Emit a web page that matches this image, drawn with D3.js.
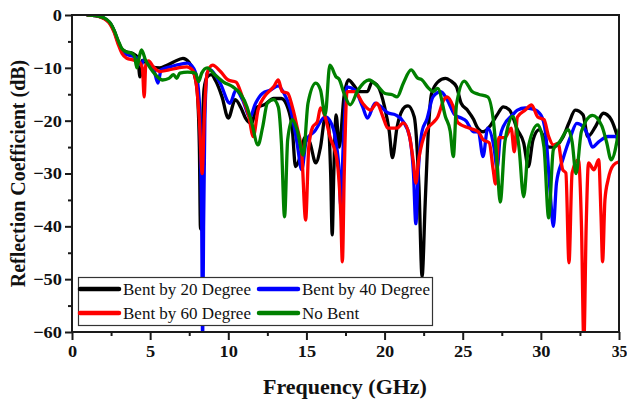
<!DOCTYPE html>
<html>
<head>
<meta charset="utf-8">
<script src="https://cdn.jsdelivr.net/npm/d3@7"></script>
<style>
  html, body { margin: 0; padding: 0; background: #fff; }
  svg { display: block; }
</style>
</head>
<body>
<svg id="chart" width="627" height="404"></svg>
<script>
// Reflection coefficient (dB) versus frequency (GHz), one [GHz, dB] pair per sample.
const bent20 = [
  [1,0],[1.5,-0.1],[1.8,-0.3],[2.2,-0.9],[2.45,-1.6],[2.7,-3],[2.95,-5],[3.2,-6.5],[3.5,-7],[3.9,-7.3],
  [4.2,-8],[4.35,-11.7],[4.5,-8.6],[4.8,-9.2],[5.1,-9.8],[5.6,-10],[6.0,-9.6],[6.5,-8.9],[7.1,-8.2],[7.5,-9],
  [7.8,-11],[8.0,-14],[8.15,-25],[8.22,-40.5],[8.32,-25],[8.45,-14],[8.65,-11.7],[8.9,-11.3],[9.2,-12.5],[9.6,-15.5],
  [10.0,-19.5],[10.45,-16],[10.8,-17.5],[11.1,-19.5],[11.5,-20.5],[11.8,-17.5],[12.3,-17],[12.9,-15.8],[13.4,-15.8],[13.8,-17.5],
  [14.1,-21.7],[14.3,-28.7],[14.6,-26.8],[14.9,-23.2],[15.2,-24],[15.6,-28],[15.9,-25],[16.2,-19.5],[16.4,-20.5],[16.55,-30],
  [16.65,-41.6],[16.75,-30],[16.9,-18.9],[17.1,-25],[17.4,-15.5],[17.7,-12.3],[18.0,-13.2],[18.4,-14.5],[18.9,-14.5],[19.2,-12.7],
  [19.6,-13.6],[20.0,-17.4],[20.3,-22],[20.5,-27],[20.8,-21.2],[21.3,-17.4],[21.5,-17.2],[21.9,-19.3],[22.2,-32.5],[22.4,-49.5],
  [22.6,-35.5],[22.8,-22],[23.0,-15],[23.4,-12.7],[23.9,-12],[24.2,-12.4],[24.6,-13.6],[24.9,-16.7],[25.3,-18],[25.7,-19.8],
  [25.9,-21.1],[26.3,-22.1],[26.8,-20.8],[27.2,-18.9],[27.6,-17.4],[28.0,-18],[28.5,-21.7],[28.9,-24.2],[29.2,-28.7],[29.5,-23.6],
  [29.9,-21.7],[30.5,-25],[30.8,-25],[31.4,-23.2],[31.8,-20.4],[32.2,-18],[32.7,-18.9],[33.0,-23],[33.5,-21.1],[34.0,-18.6],
  [34.5,-19.8],[34.9,-23],[35,-24]
];

const bent40 = [
  [1,0],[1.5,-0.1],[1.8,-0.3],[2.2,-0.9],[2.45,-1.6],[2.7,-3.1],[2.95,-5.2],[3.2,-6.8],[3.5,-7.5],[3.9,-7.8],
  [4.2,-8.3],[4.4,-9.5],[4.6,-8.5],[4.9,-9.2],[5.2,-10],[5.5,-12.9],[5.7,-10.4],[6.3,-9.8],[6.8,-9.4],[7.4,-9.1],
  [7.8,-10.2],[8.05,-13],[8.2,-20],[8.3,-40],[8.36,-62],[8.42,-40],[8.5,-20],[8.65,-11],[8.85,-10.4],[9.2,-11.5],
  [9.5,-13],[10.1,-16.7],[10.5,-14.2],[10.9,-16],[11.4,-19.3],[11.7,-17],[12.2,-14.8],[12.7,-14.2],[13.2,-13.4],[13.5,-14.5],
  [14.0,-18],[14.4,-24.2],[14.7,-29.3],[15.0,-23.6],[15.5,-22.1],[16.2,-19.3],[16.5,-20],[16.9,-24.2],[17.1,-30],[17.2,-36.3],
  [17.35,-25],[17.6,-13.6],[18.1,-14.2],[18.6,-17.4],[18.9,-19.5],[19.4,-16.7],[19.7,-17.2],[20.2,-18.5],[20.7,-18.9],[21.2,-20.2],
  [21.6,-23],[21.85,-30],[22.0,-39.5],[22.15,-30],[22.4,-22],[22.7,-19.8],[23.1,-15.5],[23.6,-14.5],[24.0,-16],[24.5,-18.9],
  [24.9,-19.5],[25.2,-20],[25.7,-22.1],[26.0,-22.1],[26.3,-26.8],[26.6,-21.4],[27.0,-25],[27.2,-29],[27.4,-23],[27.6,-21.1],
  [28.2,-18.9],[28.5,-18],[29.0,-17.6],[29.5,-17.8],[30.0,-18.9],[30.3,-22.3],[30.6,-33.7],[30.8,-40],[31.0,-31.8],[31.4,-27.4],
  [31.9,-23],[32.3,-20.5],[32.7,-21.1],[33.0,-22.7],[33.3,-25],[33.7,-24],[34.3,-23],[34.8,-23],[35,-24.5]
];

const bent60 = [
  [1,0],[1.5,-0.1],[1.8,-0.35],[2.2,-1],[2.45,-1.8],[2.7,-3.3],[2.95,-5.5],[3.2,-7.3],[3.5,-8.2],[3.9,-8.5],
  [4.3,-8.9],[4.5,-10],[4.62,-15.5],[4.72,-9.5],[4.9,-8.7],[5.2,-9.8],[5.6,-10.7],[6.2,-10.4],[6.8,-10],[7.35,-9.8],
  [7.7,-10.4],[7.95,-13],[8.15,-20],[8.33,-30],[8.48,-18],[8.65,-11],[9.0,-9.5],[9.5,-10.7],[10.0,-12.3],[10.5,-12.7],
  [10.9,-15.5],[11.3,-19],[11.6,-23],[11.9,-18],[12.3,-15.5],[12.9,-13.6],[13.2,-12.3],[13.45,-14.5],[13.8,-14.8],[14.1,-17.4],
  [14.4,-21.2],[14.7,-26.1],[14.95,-38.8],[15.15,-25],[15.4,-21.2],[15.7,-20.2],[15.9,-17.6],[16.2,-19.3],[16.5,-23],[16.95,-27.4],
  [17.2,-38],[17.3,-46.7],[17.42,-30],[17.6,-14.5],[18.1,-14.5],[18.6,-16.7],[19.1,-18],[19.5,-16.7],[19.9,-19.3],[20.2,-21.4],
  [20.8,-21.4],[21.2,-20.4],[21.6,-23],[21.85,-28],[22.0,-31.8],[22.2,-27],[22.4,-24.2],[22.7,-21.7],[23.1,-20.4],[23.4,-19.3],
  [23.8,-16],[24.0,-15.5],[24.4,-17.4],[24.7,-20.4],[25.4,-21.4],[26.0,-22.1],[26.3,-23.6],[26.7,-24.2],[26.95,-29.3],[27.1,-32],
  [27.3,-23.2],[27.7,-23.2],[28.1,-21.4],[28.3,-25.9],[28.5,-19.3],[29.0,-18],[29.4,-17],[29.8,-19.3],[30.2,-19.8],[30.5,-23],
  [30.8,-24.6],[31.1,-24.3],[31.4,-29.3],[31.6,-29.9],[31.8,-46.9],[32.0,-29.9],[32.4,-27.4],[32.6,-40],[32.75,-62],[32.9,-40],
  [33.05,-28],[33.4,-29.3],[33.7,-27.4],[33.85,-38],[33.95,-46.7],[34.1,-35],[34.3,-31.2],[34.65,-28.4],[35,-27.8]
];

const noBent = [
  [1,0],[1.5,-0.1],[1.8,-0.3],[2.2,-0.8],[2.45,-1.5],[2.7,-2.9],[2.95,-4.8],[3.2,-6.4],[3.5,-7.0],[3.8,-7.2],
  [4.0,-7.8],[4.15,-10],[4.3,-8],[4.45,-6.6],[4.7,-8.5],[5.0,-10],[5.4,-11.5],[5.8,-12.3],[6.2,-12.0],[6.5,-11.3],
  [6.7,-12],[6.9,-11],[7.4,-10.8],[7.9,-11],[8.1,-12.6],[8.3,-11],[8.65,-10],[9.1,-11.2],[9.7,-12.7],[10.3,-13.6],
  [10.8,-15],[11.2,-17.4],[11.5,-20.4],[11.9,-24.6],[12.2,-21.2],[12.5,-16.7],[12.9,-16],[13.2,-17.4],[13.4,-24.2],[13.6,-38.2],
  [13.8,-23.6],[14.1,-19.8],[14.4,-21.7],[14.8,-26.5],[15.1,-16.7],[15.6,-12.9],[15.9,-14.2],[16.2,-18.9],[16.5,-9.5],[16.9,-11.7],
  [17.1,-12.2],[17.4,-14.8],[17.8,-17],[18.3,-14.2],[19.0,-12.3],[19.6,-13.6],[20.0,-14.8],[20.5,-15.1],[20.8,-15.5],[21.2,-12.9],
  [21.7,-10.4],[22.1,-11.9],[22.4,-12.3],[22.8,-13.8],[23.1,-14.5],[23.4,-13.9],[23.9,-19.3],[24.2,-22],[24.4,-26.8],[24.6,-17],
  [25.1,-12.5],[25.6,-14.5],[26.0,-15],[26.6,-15.5],[27.0,-21],[27.2,-28],[27.4,-35.4],[27.7,-24],[28.2,-19.2],[28.6,-25],
  [28.9,-34.4],[29.2,-25],[29.8,-20.8],[30.2,-25],[30.5,-38.4],[30.8,-25.5],[31.2,-24],[31.75,-21.7],[32.0,-24],[32.25,-30],
  [32.6,-22],[33.3,-19],[33.9,-21],[34.2,-24],[34.5,-27.4],[35,-21.7]
];

const seriesNames  = ["Bent by 20 Degree", "Bent by 40 Degree", "Bent by 60 Degree", "No Bent"];
const seriesColors = ["#000000", "#0000ff", "#ff0000", "#008000"];
const seriesData   = [bent20, bent40, bent60, noBent];

const freqTicks      = [0, 5, 10, 15, 20, 25, 30, 35];
const freqMinorTicks = [2.5, 7.5, 12.5, 17.5, 22.5, 27.5, 32.5];
const dbTicks        = [0, -10, -20, -30, -40, -50, -60];
const dbMinorTicks   = [-5, -15, -25, -35, -45, -55];

const xTitle = "Frequency (GHz)";
const yTitle = "Reflection Coefficient (dB)";

// ---- layout ----
const plot = { left: 72, right: 619, top: 15, bottom: 332 };
const serif = "'Liberation Serif', 'Times New Roman', Times, serif";
const axisColor = "#1a1a1a";

const svg = d3.select("#chart");

const x = d3.scaleLinear().domain([0, 35]).range([plot.left, plot.right]);
const y = d3.scaleLinear().domain([-60, 0]).range([plot.bottom, plot.top]);

svg.append("defs").append("clipPath").attr("id", "plot-clip")
  .append("rect")
  .attr("x", plot.left).attr("y", plot.top)
  .attr("width", plot.right - plot.left).attr("height", plot.bottom - plot.top);

// ---- curves ----
const line = d3.line()
  .x(d => x(d[0]))
  .y(d => y(d[1]))
  .curve(d3.curveMonotoneX);

const curves = svg.append("g").attr("clip-path", "url(#plot-clip)");
seriesData.forEach((data, i) => {
  curves.append("path")
    .datum(data)
    .attr("d", line)
    .attr("fill", "none")
    .attr("stroke", seriesColors[i])
    .attr("stroke-width", 3.3)
    .attr("stroke-linejoin", "round")
    .attr("stroke-linecap", "round");
});

// ---- frame ----
svg.append("rect")
  .attr("x", plot.left).attr("y", plot.top)
  .attr("width", plot.right - plot.left).attr("height", plot.bottom - plot.top)
  .attr("fill", "none").attr("stroke", axisColor).attr("stroke-width", 2);

// ---- axes ----
function styleAxis(g) {
  g.select(".domain").remove();
  g.selectAll(".tick line").attr("stroke", axisColor).attr("stroke-width", 2);
  g.selectAll(".tick text")
    .attr("fill", "#111")
    .style("font-family", serif)
    .style("font-weight", "bold")
    .style("font-size", "17px");
}

const xAxis = svg.append("g")
  .attr("transform", `translate(0,${plot.bottom})`)
  .call(d3.axisBottom(x).tickValues(freqTicks).tickSize(8).tickPadding(5).tickFormat(d3.format("d")))
  .call(styleAxis);
// labels are slightly widened; the last one stays narrow enough to fit the page
xAxis.selectAll(".tick text")
  .attr("transform", d => d === 35 ? "scale(0.92,1)" : "scale(1.08,1)");

svg.append("g")
  .attr("transform", `translate(0,${plot.bottom})`)
  .call(d3.axisBottom(x).tickValues(freqMinorTicks).tickSize(4).tickFormat(""))
  .call(styleAxis);

const yAxis = svg.append("g")
  .attr("transform", `translate(${plot.left},0)`)
  .call(d3.axisLeft(y).tickValues(dbTicks).tickSize(7).tickPadding(3).tickFormat(d3.format("d")))
  .call(styleAxis);
yAxis.selectAll(".tick text").attr("x", -9.3).attr("transform", "scale(1.08,1)");

svg.append("g")
  .attr("transform", `translate(${plot.left},0)`)
  .call(d3.axisLeft(y).tickValues(dbMinorTicks).tickSize(4).tickFormat(""))
  .call(styleAxis);

// ---- axis titles ----
svg.append("text")
  .attr("transform", `translate(${(plot.left + plot.right) / 2 - 0.5},394) scale(1.1,1)`)
  .attr("text-anchor", "middle")
  .style("font-family", serif).style("font-weight", "bold").style("font-size", "20px")
  .attr("fill", "#111")
  .text(xTitle);

svg.append("text")
  .attr("transform", `translate(25,${(plot.top + plot.bottom) / 2}) scale(1.06,1) rotate(-90)`)
  .attr("text-anchor", "middle")
  .style("font-family", serif).style("font-weight", "bold").style("font-size", "20px")
  .attr("fill", "#111")
  .text(yTitle);

// ---- legend ----
const legend = svg.append("g");
legend.append("rect")
  .attr("x", 78.5).attr("y", 277.5).attr("width", 354).attr("height", 48)
  .attr("fill", "#fff").attr("stroke", "#333").attr("stroke-width", 1.2);

const legendCols = [79, 258];
const legendRows = [289, 313];
seriesNames.forEach((name, i) => {
  const cx = legendCols[i % 2];
  const cy = legendRows[Math.floor(i / 2)];
  legend.append("line")
    .attr("x1", cx + 1).attr("x2", cx + 40)
    .attr("y1", cy).attr("y2", cy)
    .attr("stroke", seriesColors[i]).attr("stroke-width", 4.5)
    .attr("stroke-linecap", "round");
  legend.append("text")
    .attr("x", cx + 44).attr("y", cy + 6)
    .style("font-family", serif).style("font-size", "17px")
    .attr("fill", "#111")
    .text(name);
});
</script>
</body>
</html>
